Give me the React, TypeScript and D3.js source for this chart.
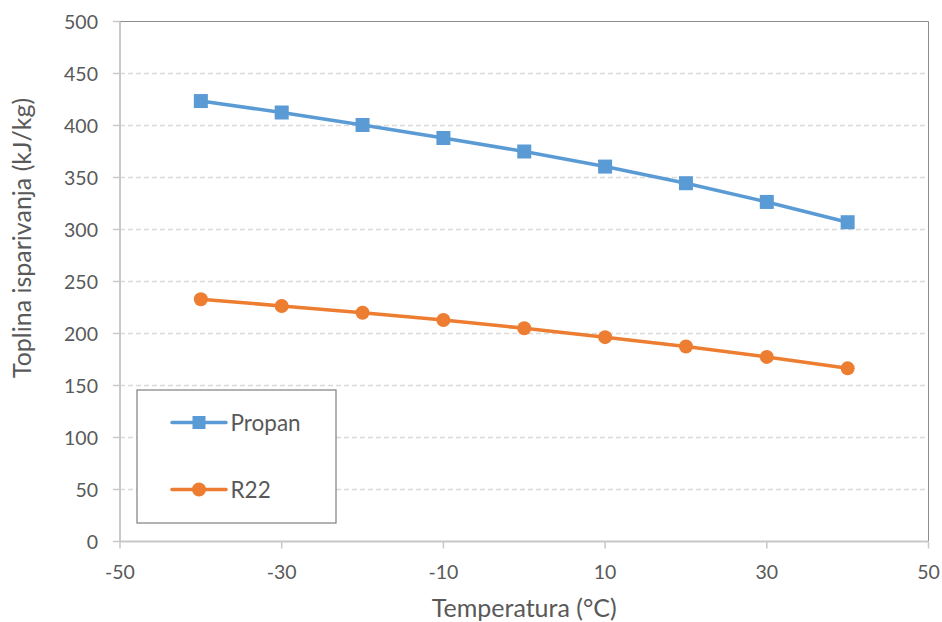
import React from "react";
import * as d3 from "d3";

const temps = [-40, -30, -20, -10, 0, 10, 20, 30, 40];
const propan = [423.5, 412.5, 400.5, 388, 375, 360.5, 344.5, 326.5, 307];
const r22 = [233, 226.5, 220, 213, 205, 196.5, 187.5, 177.5, 166.5];
const xTicks = [-50, -30, -10, 10, 30, 50];
const yTicks = [0, 50, 100, 150, 200, 250, 300, 350, 400, 450, 500];
const seriesNames = ["Propan", "R22"];

const W = 942, H = 622;
const L = 120, R = 928.5, T = 21.5, B = 541.5;
const FONT = "Lato, 'Open Sans', sans-serif";
const TXT = "#595959";
const BLUE = "#5B9BD5";
const ORANGE = "#ED7D31";

export default function App() {
  const x = d3.scaleLinear().domain([-50, 50]).range([L, R]);
  const y = d3.scaleLinear().domain([0, 500]).range([B, T]);
  const line = d3.line<number>().x((_, i) => x(temps[i])).y((d) => y(d));

  return (
    <svg width={W} height={H} style={{ position: "absolute", left: 0, top: 0, background: "#fff" }}>
      {/* gridlines */}
      {yTicks.filter((t) => t > 0 && t < 500).map((t) => (
        <line key={"g" + t} x1={L} x2={R} y1={y(t)} y2={y(t)} stroke="#d9d9d9" strokeWidth={1.5} strokeDasharray="5,3" />
      ))}
      {/* plot border (top/right) */}
      <line x1={L} x2={R} y1={T} y2={T} stroke="#8c8c8c" strokeWidth={1} />
      <line x1={R} x2={R} y1={T} y2={B} stroke="#8c8c8c" strokeWidth={1} />
      {/* y ticks */}
      {yTicks.map((t) => (
        <g key={"y" + t}>
          <line x1={L - 7} x2={L} y1={y(t)} y2={y(t)} stroke="#c8c8c8" strokeWidth={1.5} />
          <text x={98} y={y(t)} dy="0.36em" textAnchor="end" fontFamily={FONT} fontSize={19.5} fill={TXT}>{t}</text>
        </g>
      ))}
      {/* x ticks */}
      {xTicks.map((t) => (
        <g key={"x" + t}>
          <line x1={x(t)} x2={x(t)} y1={B} y2={B + 7} stroke="#c8c8c8" strokeWidth={1.5} />
          <text x={x(t)} y={579} textAnchor="middle" fontFamily={FONT} fontSize={19.5} fill={TXT}>{t}</text>
        </g>
      ))}
      {/* axes */}
      <line x1={L} x2={L} y1={T} y2={B} stroke="#c8c8c8" strokeWidth={2} />
      <line x1={L} x2={R} y1={B} y2={B} stroke="#c8c8c8" strokeWidth={2} />

      {/* series */}
      <path d={line(propan) || ""} fill="none" stroke={BLUE} strokeWidth={3.5} strokeLinejoin="round" />
      {propan.map((v, i) => (
        <rect key={"p" + i} x={x(temps[i]) - 7} y={y(v) - 7} width={14} height={14} fill={BLUE} />
      ))}
      <path d={line(r22) || ""} fill="none" stroke={ORANGE} strokeWidth={3.5} strokeLinejoin="round" />
      {r22.map((v, i) => (
        <circle key={"r" + i} cx={x(temps[i])} cy={y(v)} r={7} fill={ORANGE} />
      ))}

      {/* legend */}
      <rect x={137} y={390} width={199} height={133} fill="#fff" stroke="#7f7f7f" strokeWidth={1.2} />
      <line x1={172} x2={226} y1={422.5} y2={422.5} stroke={BLUE} strokeWidth={3.5} strokeLinecap="round" />
      <rect x={192.5} y={416} width={13} height={13} fill={BLUE} />
      <text x={230.5} y={422.5} dy="0.36em" fontFamily={FONT} fontSize={22.5} fill={TXT}>{seriesNames[0]}</text>
      <line x1={172} x2={226} y1={489.5} y2={489.5} stroke={ORANGE} strokeWidth={3.5} strokeLinecap="round" />
      <circle cx={199} cy={489.5} r={7} fill={ORANGE} />
      <text x={230.5} y={489.5} dy="0.36em" fontFamily={FONT} fontSize={22.5} fill={TXT}>{seriesNames[1]}</text>

      {/* axis titles */}
      <text x={(L + R) / 2} y={617} textAnchor="middle" fontFamily={FONT} fontSize={25} fill={TXT}>Temperatura (°C)</text>
      <text transform="translate(31,238) rotate(-90)" textAnchor="middle" fontFamily={FONT} fontSize={25} fill={TXT}>Toplina isparivanja (kJ/kg)</text>
    </svg>
  );
}
